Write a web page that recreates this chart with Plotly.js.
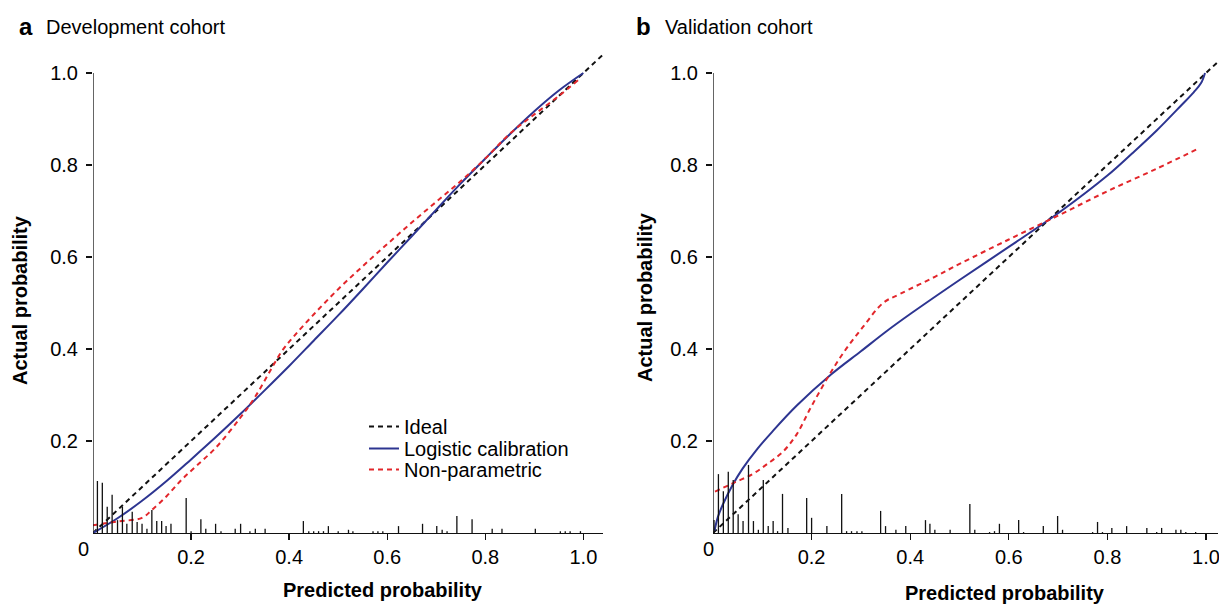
<!DOCTYPE html>
<html>
<head>
<meta charset="utf-8">
<script src="https://cdn.plot.ly/plotly-3.0.1.min.js"></script>
<style>html,body{margin:0;padding:0;background:#fff;}#chart{width:1219px;height:605px;}</style>
</head>
<body>
<div id="chart"></div>
<script>
// ---------- data ----------
const tickVals = [0.2, 0.4, 0.6, 0.8, 1.0];
const tickText = ['0.2', '0.4', '0.6', '0.8', '1.0'];
const seriesNames = ['Ideal', 'Logistic calibration', 'Non-parametric'];

// Panel a: Development cohort
const idealA_x = [0, 1.04];
const idealA_y = [0, 1.04];
const logA_x = [0, 0.05, 0.1, 0.15, 0.2, 0.25, 0.3, 0.35, 0.4, 0.45, 0.5, 0.55, 0.6, 0.65, 0.7, 0.75, 0.8, 0.85, 0.9, 0.95, 1.0];
const logA_y = [0.0, 0.032, 0.07, 0.113, 0.16, 0.208, 0.258, 0.31, 0.363, 0.418, 0.473, 0.53, 0.588, 0.645, 0.703, 0.76, 0.814, 0.867, 0.917, 0.962, 1.0];
const npA_x = [0, 0.05, 0.1, 0.12, 0.15, 0.18, 0.21, 0.25, 0.3, 0.33, 0.36, 0.385, 0.41, 0.45, 0.5, 0.55, 0.6, 0.65, 0.7, 0.75, 0.8, 0.85, 0.9, 0.95, 0.99];
const npA_y = [0.017, 0.025, 0.033, 0.05, 0.08, 0.115, 0.145, 0.185, 0.25, 0.295, 0.35, 0.395, 0.428, 0.475, 0.53, 0.58, 0.628, 0.675, 0.72, 0.765, 0.814, 0.868, 0.91, 0.95, 0.985];
const rugA_x = [0.009, 0.019, 0.029, 0.039, 0.050, 0.060, 0.069, 0.080, 0.090, 0.100, 0.110, 0.120, 0.130, 0.140, 0.149, 0.159, 0.190, 0.200, 0.220, 0.230, 0.250, 0.261, 0.290, 0.301, 0.320, 0.331, 0.351, 0.429, 0.44, 0.45, 0.46, 0.47, 0.48, 0.50, 0.521, 0.53, 0.571, 0.581, 0.591, 0.623, 0.672, 0.701, 0.712, 0.722, 0.742, 0.773, 0.814, 0.834, 0.902, 0.953, 0.963, 0.973, 0.994];
const rugA_h = [0.113, 0.109, 0.057, 0.083, 0.028, 0.057, 0.020, 0.046, 0.024, 0.020, 0.009, 0.050, 0.026, 0.026, 0.015, 0.020, 0.076, 0.004, 0.030, 0.009, 0.020, 0.004, 0.009, 0.020, 0.004, 0.009, 0.009, 0.026, 0.004, 0.004, 0.004, 0.004, 0.015, 0.004, 0.007, 0.004, 0.004, 0.004, 0.004, 0.015, 0.020, 0.015, 0.007, 0.004, 0.037, 0.030, 0.009, 0.009, 0.009, 0.004, 0.004, 0.004, 0.004];

// Panel b: Validation cohort
const idealB_x = [0, 1.025];
const idealB_y = [0, 1.025];
const logB_x = [0.003, 0.01, 0.02, 0.04, 0.06, 0.09, 0.12, 0.17, 0.24, 0.3, 0.35, 0.4, 0.5, 0.6, 0.7, 0.8, 0.85, 0.9, 0.95, 0.975, 0.99, 0.998];
const logB_y = [0.005, 0.035, 0.062, 0.105, 0.14, 0.183, 0.22, 0.277, 0.345, 0.395, 0.437, 0.476, 0.55, 0.622, 0.695, 0.777, 0.825, 0.875, 0.93, 0.958, 0.978, 1.0];
const npB_x = [0.004, 0.04, 0.08, 0.11, 0.143, 0.17, 0.197, 0.23, 0.264, 0.305, 0.345, 0.38, 0.45, 0.5, 0.6, 0.7, 0.8, 0.9, 0.985];
const npB_y = [0.09, 0.108, 0.128, 0.15, 0.178, 0.215, 0.27, 0.333, 0.391, 0.449, 0.5, 0.52, 0.557, 0.585, 0.638, 0.69, 0.743, 0.792, 0.836];
const rugB_x = [0.002, 0.011, 0.021, 0.031, 0.041, 0.051, 0.061, 0.072, 0.082, 0.092, 0.102, 0.112, 0.122, 0.131, 0.141, 0.152, 0.190, 0.200, 0.231, 0.261, 0.271, 0.281, 0.292, 0.302, 0.340, 0.350, 0.371, 0.391, 0.431, 0.440, 0.450, 0.481, 0.521, 0.531, 0.561, 0.571, 0.581, 0.620, 0.630, 0.670, 0.699, 0.709, 0.770, 0.780, 0.790, 0.809, 0.839, 0.880, 0.900, 0.910, 0.939, 0.949, 0.959, 0.979];
const rugB_h = [0.028, 0.128, 0.091, 0.133, 0.115, 0.041, 0.026, 0.148, 0.026, 0.007, 0.115, 0.015, 0.026, 0.004, 0.085, 0.011, 0.076, 0.033, 0.015, 0.085, 0.004, 0.004, 0.004, 0.004, 0.048, 0.015, 0.007, 0.015, 0.028, 0.020, 0.007, 0.007, 0.063, 0.007, 0.002, 0.004, 0.020, 0.028, 0.002, 0.015, 0.037, 0.007, 0.002, 0.024, 0.002, 0.011, 0.015, 0.011, 0.002, 0.011, 0.007, 0.007, 0.002, 0.002];

// ---------- helpers ----------
function spikes(xs, hs) {
  const x = [], y = [];
  xs.forEach((v, i) => { x.push(v, v, null); y.push(0, hs[i], null); });
  return {x, y};
}
const FONT = '"Liberation Sans", Arial, Helvetica, sans-serif';
const FS = 20;
const BLUE = '#2d3591', RED = '#e2262b', BLACK = '#111111';
const DASH = '5px,4px';

const sA = spikes(rugA_x, rugA_h);
const sB = spikes(rugB_x, rugB_h);

const traces = [
  {x: idealA_x, y: idealA_y, xaxis: 'x', yaxis: 'y', mode: 'lines', name: seriesNames[0], legend: 'legend',
   line: {color: BLACK, width: 2, dash: DASH}},
  {x: logA_x, y: logA_y, xaxis: 'x', yaxis: 'y', mode: 'lines', name: seriesNames[1], legend: 'legend2',
   line: {color: BLUE, width: 2, shape: 'spline', smoothing: 1}},
  {x: npA_x, y: npA_y, xaxis: 'x', yaxis: 'y', mode: 'lines', name: seriesNames[2], legend: 'legend3',
   line: {color: RED, width: 2, dash: DASH, shape: 'spline'}},
  {x: sA.x, y: sA.y, xaxis: 'x', yaxis: 'y', mode: 'lines', showlegend: false, connectgaps: false,
   line: {color: BLACK, width: 1.3}, hoverinfo: 'skip'},
  {x: idealB_x, y: idealB_y, xaxis: 'x2', yaxis: 'y2', mode: 'lines', showlegend: false,
   line: {color: BLACK, width: 2, dash: DASH}},
  {x: logB_x, y: logB_y, xaxis: 'x2', yaxis: 'y2', mode: 'lines', showlegend: false,
   line: {color: BLUE, width: 2, shape: 'spline', smoothing: 1}},
  {x: npB_x, y: npB_y, xaxis: 'x2', yaxis: 'y2', mode: 'lines', showlegend: false,
   line: {color: RED, width: 2, dash: DASH, shape: 'spline'}},
  {x: sB.x, y: sB.y, xaxis: 'x2', yaxis: 'y2', mode: 'lines', showlegend: false, connectgaps: false,
   line: {color: BLACK, width: 1.3}, hoverinfo: 'skip'}
];

const W = 1219, H = 605;
const px = v => v / W, py = v => 1 - v / H;

const xCommon = {
  showgrid: false, zeroline: false, showline: true, linecolor: BLACK, linewidth: 1.3,
  ticks: 'outside', ticklen: 6, tickwidth: 1.3, tickcolor: BLACK,
  tickvals: tickVals, ticktext: tickText, tickfont: {family: FONT, size: FS, color: '#000'},
  ticklabeloverflow: 'allow', fixedrange: true
};
const yCommon = {
  showgrid: false, zeroline: false, showline: false,
  ticks: 'outside', ticklen: 6, tickwidth: 1.3, tickcolor: BLACK,
  tickvals: tickVals, ticktext: tickText, tickfont: {family: FONT, size: FS, color: '#000'},
  range: [0, 1.04], ticklabelstandoff: 4, fixedrange: true
};

const yDom = [py(533), py(533 - 1.04 * 460)];

function legendAt(top) {
  return {x: px(364), y: py(top), xanchor: 'left', yanchor: 'top', bgcolor: 'rgba(0,0,0,0)',
          font: {family: FONT, size: FS, color: '#000'}, borderwidth: 0};
}

const annFont = {family: FONT, size: FS, color: '#000'};
const layout = {
  width: W, height: H,
  margin: {l: 0, r: 0, t: 0, b: 0},
  paper_bgcolor: '#fff', plot_bgcolor: '#fff',
  font: {family: FONT, color: '#000'},
  xaxis: Object.assign({}, xCommon, {domain: [px(93), px(603)], range: [0, 1.04], anchor: 'y'}),
  yaxis: Object.assign({}, yCommon, {domain: yDom, anchor: 'x'}),
  xaxis2: Object.assign({}, xCommon, {domain: [px(713), px(1218)], range: [0, 505 / 493], anchor: 'y2'}),
  yaxis2: Object.assign({}, yCommon, {domain: yDom, anchor: 'x2'}),
  showlegend: true,
  legend: legendAt(407),
  legend2: legendAt(429),
  legend3: legendAt(450),
  shapes: [
    {type: 'line', xref: 'x', yref: 'y', x0: 0, x1: 0, y0: 0, y1: 1, line: {color: BLACK, width: 1.3}},
    {type: 'line', xref: 'x2', yref: 'y2', x0: 0, x1: 0, y0: 0, y1: 1, line: {color: BLACK, width: 1.3}}
  ],
  annotations: [
    {xref: 'paper', yref: 'paper', x: px(17), y: py(27), xanchor: 'left', yanchor: 'middle', showarrow: false,
     text: '<b>a</b>', font: {family: FONT, size: 24, color: '#000'}},
    {xref: 'paper', yref: 'paper', x: px(44), y: py(27), xanchor: 'left', yanchor: 'middle', showarrow: false,
     text: 'Development cohort', font: annFont},
    {xref: 'paper', yref: 'paper', x: px(634), y: py(27), xanchor: 'left', yanchor: 'middle', showarrow: false,
     text: '<b>b</b>', font: {family: FONT, size: 24, color: '#000'}},
    {xref: 'paper', yref: 'paper', x: px(663), y: py(27), xanchor: 'left', yanchor: 'middle', showarrow: false,
     text: 'Validation cohort', font: annFont},
    {xref: 'paper', yref: 'paper', x: px(383), y: py(590), xanchor: 'center', yanchor: 'middle', showarrow: false,
     text: '<b>Predicted probability</b>', font: annFont},
    {xref: 'paper', yref: 'paper', x: px(1005), y: py(593), xanchor: 'center', yanchor: 'middle', showarrow: false,
     text: '<b>Predicted probability</b>', font: annFont},
    {xref: 'paper', yref: 'paper', x: px(20), y: py(300), xanchor: 'center', yanchor: 'middle', showarrow: false,
     textangle: -90, text: '<b>Actual probability</b>', font: annFont},
    {xref: 'paper', yref: 'paper', x: px(645), y: py(297), xanchor: 'center', yanchor: 'middle', showarrow: false,
     textangle: -90, text: '<b>Actual probability</b>', font: annFont},
    {xref: 'x', yref: 'paper', x: 0, y: py(549), xanchor: 'center', yanchor: 'middle', xshift: -10, showarrow: false,
     text: '0', font: annFont},
    {xref: 'x2', yref: 'paper', x: 0, y: py(549), xanchor: 'center', yanchor: 'middle', xshift: -5, showarrow: false,
     text: '0', font: annFont}
  ]
};

Plotly.newPlot('chart', traces, layout, {displayModeBar: false, staticPlot: true});
</script>
</body>
</html>
